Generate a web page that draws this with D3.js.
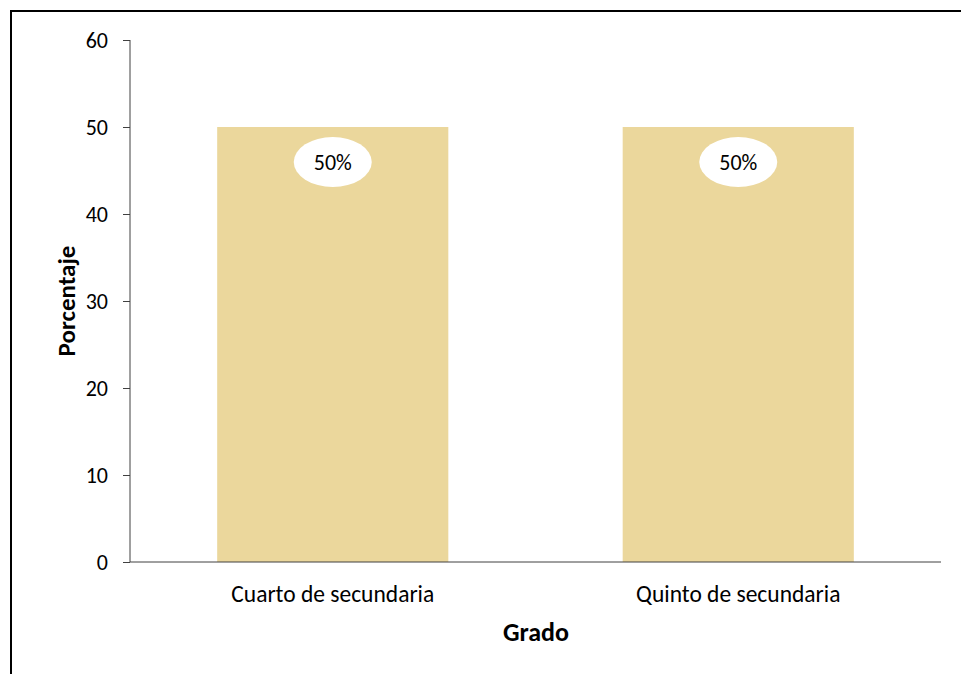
<!DOCTYPE html>
<html>
<head>
<meta charset="utf-8">
<script src="https://cdn.jsdelivr.net/npm/d3@7"></script>
<style>
  body { margin: 0; background: #fff; }
  text { font-family: Carlito, Calibri, Lato, "Open Sans", sans-serif; }
</style>
</head>
<body>
<div id="chart"></div>
<script>
var categories = ["Cuarto de secundaria", "Quinto de secundaria"];
var values = [50, 50];
var labels = ["50%", "50%"];
var yTicks = [0, 10, 20, 30, 40, 50, 60];

var width = 961, height = 674;
var fontStack = "Carlito, Calibri, Lato, 'Open Sans', sans-serif";

var svg = d3.select("#chart").append("svg")
  .attr("width", width)
  .attr("height", height);

// outer frame (right/bottom edges fall off the picture)
svg.append("rect")
  .attr("x", 11).attr("y", 11)
  .attr("width", 970).attr("height", 700)
  .attr("fill", "none")
  .attr("stroke", "#000")
  .attr("stroke-width", 2);

var xScale = d3.scaleBand().domain(categories).range([130, 941])
  .paddingInner(0.43).paddingOuter(0.215);
var yScale = d3.scaleLinear().domain([0, 60]).range([562, 40]);

// bars
svg.selectAll(".bar")
  .data(values)
  .enter().append("rect")
  .attr("class", "bar")
  .attr("x", function(d, i) { return xScale(categories[i]); })
  .attr("y", function(d) { return yScale(d); })
  .attr("width", xScale.bandwidth())
  .attr("height", function(d) { return yScale(0) - yScale(d); })
  .attr("fill", "#ebd79c");

// value labels in white ellipses
var lab = svg.selectAll(".lab")
  .data(values)
  .enter().append("g")
  .attr("class", "lab")
  .attr("transform", function(d, i) {
    return "translate(" + (xScale(categories[i]) + xScale.bandwidth() / 2) + "," + (yScale(d) + 35) + ")";
  });
lab.append("ellipse").attr("rx", 39).attr("ry", 25).attr("fill", "#fff");
lab.append("text")
  .attr("text-anchor", "middle")
  .attr("dy", "0.36em")
  .style("font-size", "22px")
  .text(function(d, i) { return labels[i]; });

// y axis
var yAxis = d3.axisLeft(yScale).tickValues(yTicks).tickSize(7).tickPadding(15);
var gy = svg.append("g").attr("transform", "translate(130,0)").call(yAxis);
gy.select(".domain").attr("stroke", "#404040").attr("d", "M0,40V562");
gy.selectAll(".tick line").attr("stroke", "#404040");
gy.selectAll(".tick text").style("font-size", "22px").attr("fill", "#000")
  .style("font-family", fontStack);

// x axis
var xAxis = d3.axisBottom(xScale).tickSize(0).tickPadding(23);
var gx = svg.append("g").attr("transform", "translate(0,562)").call(xAxis);
gx.select(".domain").attr("stroke", "#404040").attr("d", "M130,0H941");
gx.selectAll(".tick text").style("font-size", "23.5px").attr("fill", "#000")
  .style("font-family", fontStack);

// axis titles
svg.append("text")
  .attr("transform", "translate(75,301) rotate(-90)")
  .attr("text-anchor", "middle")
  .style("font-size", "25px")
  .style("font-weight", "bold")
  .text("Porcentaje");

svg.append("text")
  .attr("x", 536).attr("y", 641)
  .attr("text-anchor", "middle")
  .style("font-size", "26px")
  .style("font-weight", "bold")
  .text("Grado");
</script>
</body>
</html>
